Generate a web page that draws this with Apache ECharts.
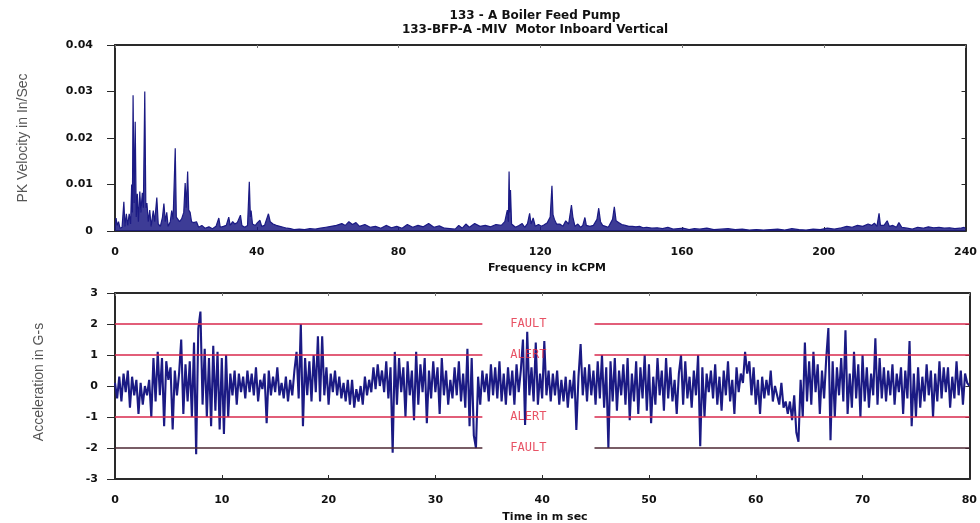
<!DOCTYPE html>
<html>
<head>
<meta charset="utf-8">
<script src="https://cdn.jsdelivr.net/npm/echarts@6/dist/echarts.min.js"></script>
<style>
html,body{margin:0;padding:0;background:#fff;}
#chart{width:980px;height:523px;}
</style>
</head>
<body>
<div id="chart"></div>
<script>
// ---------- Titles & axis names ----------
const titleLines = ['133 - A Boiler Feed Pump', '133-BFP-A -MIV  Motor Inboard Vertical'];
const specXName = 'Frequency in kCPM';
const specYName = 'PK Velocity in In/Sec';
const waveXName = 'Time in m sec';
const waveYName = 'Acceleration in G-s';

// ---------- Spectrum (frequency kCPM, PK velocity in/sec) ----------
const freqK = [
0,0.3,0.6,1.0,1.4,2.0,2.5,2.8,3.2,3.6,4.0,4.4,4.7,4.9,5.1,5.4,5.7,6.0,6.3,6.6,7.0,7.3,7.7,8.0,8.4,8.7,9.0,9.4,9.8,10.2,
10.8,11.2,11.8,12.2,12.8,13.4,13.8,14.2,14.6,15.0,15.6,16.0,16.4,17.0,17.3,17.8,18.2,18.8,19.4,19.8,20.1,20.5,20.8,21.2,21.6,22.2,23.0,23.6,24.5,25.4,
26.5,27.5,28.5,29.3,29.7,30.6,31.4,32.1,32.5,33.2,33.8,34.5,35.4,35.8,36.6,37.4,37.9,38.2,38.4,38.8,39.6,40.2,40.9,41.4,42.2,43.3,43.8,44.6,45.5,46.5,
47.5,48.5,49.5,50.5,52,53.5,55,56.5,58,59.5,61,62.5,64,65,66,67,68,69,70.5,72,73.5,75,76.5,78,79.5,81,82.5,84,85.5,87,
88.5,90,91.5,93,94.5,96,97,98,99,100,101.5,103,104.5,106,107.5,109,110,110.7,111.0,111.2,111.4,111.6,111.9,113,114,114.9,115.6,116.4,117.0,117.4,
118,118.6,119.5,120.3,121.0,122.0,122.8,123.3,123.6,124,124.6,125.5,126.4,127.2,128.0,128.5,128.8,129.2,129.8,130.6,131.4,132.0,132.6,133.0,134,135,136.0,136.5,137.0,137.6,
138.4,139.2,140.4,140.9,141.4,142.2,143,144,145,146,147,148,149,150,151.5,153,154.5,156,157.5,159,160.5,162,163.5,165,167,169,171,173,175,177,
179,181,183,185,187,189,191,193,195,197,199,201,203,205,206.5,208,209.5,211,212.5,213.5,214.3,215.0,215.6,216.0,217.0,217.9,218.5,219.5,220.5,221.2,
222,223.5,225,226.5,228,229.5,231,232.5,234,235.5,237,238.5,239.6,240
];
const pkVel = [
0.0003,0.0028,0.0012,0.0020,0.0006,0.0008,0.0063,0.0010,0.0037,0.0012,0.0037,0.0015,0.0100,0.0040,0.0292,0.0060,0.0235,0.0030,0.0080,0.0020,0.0085,0.0040,0.0082,0.0050,0.0300,0.0050,0.0060,0.0020,0.0045,0.0010,
0.0044,0.0020,0.0072,0.0015,0.0010,0.0030,0.0059,0.0020,0.0040,0.0010,0.0020,0.0044,0.0025,0.0178,0.0030,0.0026,0.0020,0.0026,0.0040,0.0103,0.0050,0.0128,0.0045,0.0040,0.0020,0.0018,0.0020,0.0008,0.0012,0.0006,
0.0009,0.0005,0.0010,0.0028,0.0008,0.0010,0.0012,0.0030,0.0012,0.0020,0.0015,0.0018,0.0034,0.0012,0.0008,0.0012,0.0106,0.0030,0.0044,0.0015,0.0012,0.0018,0.0023,0.0010,0.0012,0.0037,0.0020,0.0015,0.0012,0.0010,
0.0008,0.0006,0.0005,0.0003,0.0004,0.0003,0.0005,0.0004,0.0006,0.0008,0.0010,0.0012,0.0016,0.0012,0.0020,0.0014,0.0018,0.0010,0.0014,0.0008,0.0010,0.0006,0.0012,0.0007,0.0010,0.0006,0.0014,0.0008,0.0012,0.0009,
0.0016,0.0008,0.0011,0.0006,0.0005,0.0004,0.0012,0.0006,0.0015,0.0008,0.0016,0.0010,0.0012,0.0009,0.0014,0.0012,0.0020,0.0045,0.0020,0.0128,0.0040,0.0088,0.0015,0.0008,0.0012,0.0016,0.0008,0.0016,0.0038,0.0015,
0.0028,0.0010,0.0014,0.0010,0.0013,0.0018,0.0030,0.0097,0.0035,0.0025,0.0015,0.0015,0.0010,0.0022,0.0015,0.0040,0.0056,0.0030,0.0010,0.0015,0.0008,0.0012,0.0029,0.0012,0.0010,0.0012,0.0025,0.0049,0.0020,0.0012,
0.0010,0.0008,0.0025,0.0052,0.0022,0.0018,0.0014,0.0012,0.0010,0.0010,0.0009,0.0010,0.0007,0.0008,0.0006,0.0007,0.0005,0.0008,0.0004,0.0005,0.0006,0.0003,0.0005,0.0004,0.0006,0.0003,0.0004,0.0005,0.0003,0.0004,
0.0002,0.0003,0.0002,0.0003,0.0004,0.0002,0.0005,0.0003,0.0002,0.0004,0.0003,0.0006,0.0004,0.0007,0.0010,0.0008,0.0012,0.0010,0.0015,0.0012,0.0017,0.0010,0.0038,0.0012,0.0012,0.0022,0.0010,0.0012,0.0008,0.0018,
0.0008,0.0006,0.0004,0.0008,0.0006,0.0009,0.0007,0.0008,0.0006,0.0007,0.0005,0.0006,0.0008,0.0004
];

// ---------- Time waveform (acceleration in G-s), sample step 0.2 ms ----------
const sampleStepMs = 0.2;
const accelG = [
0.1,-0.4,0.3,-0.5,0.4,  -0.2,0.5,-0.7,0.3,-0.3,  0.2,-0.9,0.1,-0.6,0.0,  -0.3,0.2,-1.0,0.9,-0.5,
1.1,-0.3,0.9,-1.3,0.8,  0.2,0.6,-1.4,0.5,-0.3,  0.4,1.5,-0.9,0.7,-0.5,  0.8,-1.0,1.4,-2.2,1.85,
2.4,-0.6,1.2,-1.0,0.9,  -1.3,1.3,-0.8,1.1,-1.4,  0.9,-1.55,1.0,-1.0,0.4,  -0.3,0.5,-0.6,0.4,-0.2,
0.3,-0.4,0.5,-0.2,0.4,  -0.3,0.6,-0.5,0.2,-0.1,  0.4,-1.2,0.5,-0.3,0.3,  -0.2,0.6,-0.3,0.1,-0.4,
0.3,-0.5,0.2,-0.3,0.5,  1.1,-0.4,2.0,-1.3,0.9,  -0.3,0.8,-0.5,1.0,-0.2,  1.6,-0.5,1.6,-0.3,0.6,
-0.6,0.4,-0.2,0.5,-0.3,  0.3,-0.4,0.1,-0.5,0.2,  -0.6,0.2,-0.7,-0.1,-0.5,  0.0,-0.6,0.3,-0.3,0.2,
-0.2,0.6,-0.1,0.7,0.0,  0.5,-0.2,0.8,-0.4,0.6,  -2.15,1.1,-0.6,0.9,-0.2,  0.6,-1.0,0.8,-0.3,0.5,
-1.1,1.1,-0.6,0.7,-0.2,  0.9,-1.2,0.5,-0.4,0.8,  -0.2,0.6,-0.9,0.9,-0.3,  0.5,-0.6,0.2,-0.4,0.6,
-0.3,0.8,-0.5,0.4,-0.7,  1.2,-1.3,0.9,-1.6,-2.0,  0.3,-0.6,0.5,-0.2,0.4,  -0.5,0.7,-0.3,0.6,-0.4,
0.8,-0.5,0.4,-0.6,0.6,  -0.3,0.5,-0.6,0.7,-0.2,  0.5,1.5,-1.26,1.75,-0.3,  0.6,-0.5,1.4,-0.6,0.4,
-0.4,1.45,-0.3,0.5,-0.5,  0.4,-0.3,0.5,-0.6,0.2,  -0.5,0.3,-0.7,0.2,-0.4,  0.5,-1.42,0.3,1.35,-0.3,
0.6,-0.5,0.7,-0.3,0.5,  -0.6,0.8,-0.4,1.0,-0.7,  0.6,-2.0,0.8,-0.5,0.9,  -0.8,0.5,-0.3,0.7,-0.6,
0.9,-1.1,0.4,-0.5,0.8,  -0.9,0.6,-0.4,1.0,-0.8,  0.7,-1.2,0.3,-0.6,0.9,  -0.3,0.5,-0.8,0.9,-0.4,
0.6,-0.5,0.2,-0.9,0.4,  1.0,-0.6,0.8,-0.4,0.3,  -0.7,0.5,-0.3,1.0,-1.94,  0.6,-1.0,0.4,-0.2,0.5,
-0.4,0.7,-0.6,0.3,-0.8,  0.5,-0.3,0.8,-0.5,0.2,  -0.9,0.6,-0.2,0.4,0.1,  1.1,0.4,0.8,-0.3,0.6,
-0.6,0.2,-0.9,0.3,-0.4,  0.2,-0.3,0.5,-0.5,0.0,  -0.3,-0.6,0.1,-0.7,-0.5,  -0.9,-0.5,-1.1,-0.3,-1.5,
-1.8,0.2,-1.0,1.4,-0.5,  0.8,-0.6,1.1,-0.2,0.7,  -0.9,0.5,-0.4,0.9,1.87,  -1.75,0.8,-1.0,0.6,-0.3,
0.9,-0.5,1.8,-0.9,0.4,  -0.7,1.1,-0.4,0.7,-1.0,  1.0,-0.5,0.6,-0.7,0.4,  -0.3,1.54,-0.6,0.9,-0.4,
0.6,-0.5,0.5,-0.3,0.7,  -0.6,0.4,-0.2,0.6,-0.9,  0.5,-0.4,1.45,-1.3,0.4,  -1.0,0.6,-0.7,0.3,-0.5,
0.7,-0.3,0.5,-1.0,0.4,  -0.5,0.8,-0.4,0.6,-0.2,  0.6,-0.7,0.3,-0.4,0.8,  -0.3,0.5,-0.6,0.4,0.1,
0.0
];

// ---------- Alarm limits ----------
const limitNames = ['FAULT', 'ALERT', 'ALERT', 'FAULT'];
const limitValues = [2, 1, -1, -2];
const limitGapMs = [34.4, 44.9];   // lines are broken where the labels sit
const limitLabelMs = 38.7;

// ---------- Axis ticks ----------
const specXTicks = [0, 40, 80, 120, 160, 200, 240];
const specYTicks = [0, 0.01, 0.02, 0.03, 0.04];
const waveXTicks = [0, 10, 20, 30, 40, 50, 60, 70, 80];
const waveYTicks = [-3, -2, -1, 0, 1, 2, 3];

// ---------- Build ----------
const chart = echarts.init(document.getElementById('chart'), null, {renderer: 'canvas'});
const navy = '#1b1a84';
const axisCol = '#2a2a2a';
const lblFont = {color: '#111', fontWeight: 'bold', fontSize: 11, fontFamily: 'DejaVu Sans'};

function mainX(grid, ticks) {
  return {
    gridIndex: grid, type: 'value', min: ticks[0], max: ticks[ticks.length - 1],
    interval: ticks[1] - ticks[0],
    axisLine: {show: true, onZero: false, lineStyle: {color: axisCol, width: 2}},
    axisTick: {show: true, inside: true, length: 4, lineStyle: {color: axisCol}},
    axisLabel: Object.assign({margin: 16}, lblFont),
    splitLine: {show: false}
  };
}
function frameX(grid, ticks) {
  return {
    gridIndex: grid, type: 'value', position: 'top', min: ticks[0], max: ticks[ticks.length - 1],
    interval: ticks[1] - ticks[0],
    axisLine: {show: true, onZero: false, lineStyle: {color: axisCol, width: 2}},
    axisTick: {show: true, inside: true, length: 3, lineStyle: {color: '#777'}},
    axisLabel: {show: false}, splitLine: {show: false}
  };
}
function mainY(grid, ticks, fmt, margin) {
  return {
    gridIndex: grid, type: 'value', min: ticks[0], max: ticks[ticks.length - 1],
    interval: ticks[1] - ticks[0],
    axisLine: {show: true, onZero: false, lineStyle: {color: axisCol, width: 2}},
    axisTick: {show: true, inside: false, length: 8, lineStyle: {color: axisCol}},
    axisLabel: Object.assign({margin: margin, formatter: fmt, padding: [0, 0, 10, 0]}, lblFont),
    splitLine: {show: false}
  };
}
function frameY(grid, ticks) {
  return {
    gridIndex: grid, type: 'value', position: 'right', min: ticks[0], max: ticks[ticks.length - 1],
    interval: ticks[1] - ticks[0],
    axisLine: {show: true, onZero: false, lineStyle: {color: axisCol, width: 2}},
    axisTick: {show: true, inside: true, length: 4, lineStyle: {color: axisCol}},
    axisLabel: {show: false}, splitLine: {show: false}
  };
}

const specData = freqK.map((f, i) => [f, pkVel[i]]);
const waveData = accelG.map((v, i) => [+(i * sampleStepMs).toFixed(2), v]);

const limitLines = [];
limitValues.forEach((v, i) => {
  const col = i === 3 ? '#4d2733' : '#d8284c';
  const ls = {color: col, width: 1.6, type: 'solid'};
  limitLines.push([{coord: [waveXTicks[0], v], lineStyle: ls}, {coord: [limitGapMs[0], v]}]);
  limitLines.push([{coord: [limitGapMs[1], v], lineStyle: ls}, {coord: [waveXTicks[waveXTicks.length - 1], v]}]);
});

const option = {
  animation: false,
  backgroundColor: '#ffffff',
  grid: [
    {left: 115, right: 5, top: 45, height: 186},
    {left: 115, right: 5, top: 293, height: 186}
  ],
  xAxis: [mainX(0, specXTicks), frameX(0, specXTicks), mainX(1, waveXTicks), frameX(1, waveXTicks)],
  yAxis: [
    mainY(0, specYTicks, v => v === 0 ? '0' : v.toFixed(2), 22),
    frameY(0, specYTicks),
    mainY(1, waveYTicks, v => String(v), 17),
    frameY(1, waveYTicks)
  ],
  series: [
    {
      type: 'line', xAxisIndex: 0, yAxisIndex: 0, data: specData,
      symbol: 'none', lineStyle: {color: navy, width: 1.2},
      areaStyle: {color: navy, opacity: 0.85}, silent: true
    },
    {
      type: 'line', xAxisIndex: 2, yAxisIndex: 2, data: waveData,
      symbol: 'none', lineStyle: {color: navy, width: 2.1, join: 'bevel'}, silent: true,
      markLine: {symbol: 'none', silent: true, label: {show: false}, data: limitLines}
    },
    {
      type: 'scatter', xAxisIndex: 2, yAxisIndex: 2, symbol: 'rect', symbolSize: 1,
      itemStyle: {color: 'rgba(0,0,0,0)'}, silent: true, z: 5,
      data: limitValues.map((v, i) => ({value: [limitLabelMs, v], name: limitNames[i]})),
      label: {show: true, position: 'inside', formatter: p => p.name,
        color: '#e2283f', fontSize: 12, fontFamily: 'DejaVu Sans Mono'}
    }
  ],
  graphic: [
    {type: 'text', style: {text: titleLines.join('\n'), x: 535, y: 9, textAlign: 'center',
      font: 'bold 12px "DejaVu Sans"', fill: '#111', lineHeight: 14}},
    {type: 'text', style: {text: specXName, x: 547, y: 268, textAlign: 'center', textVerticalAlign: 'middle',
      font: 'bold 11px "DejaVu Sans"', fill: '#111'}},
    {type: 'text', style: {text: waveXName, x: 545, y: 517, textAlign: 'center', textVerticalAlign: 'middle',
      font: 'bold 11px "DejaVu Sans"', fill: '#111'}},
    {type: 'text', x: 23, y: 138, rotation: Math.PI / 2, style: {text: specYName, x: 0, y: 0,
      textAlign: 'center', textVerticalAlign: 'middle', font: '14px "Liberation Sans"', fill: '#555'}},
    {type: 'text', x: 39, y: 382, rotation: Math.PI / 2, style: {text: waveYName, x: 0, y: 0,
      textAlign: 'center', textVerticalAlign: 'middle', font: '14px "Liberation Sans"', fill: '#555'}}
  ]
};
chart.setOption(option);
</script>
</body>
</html>
